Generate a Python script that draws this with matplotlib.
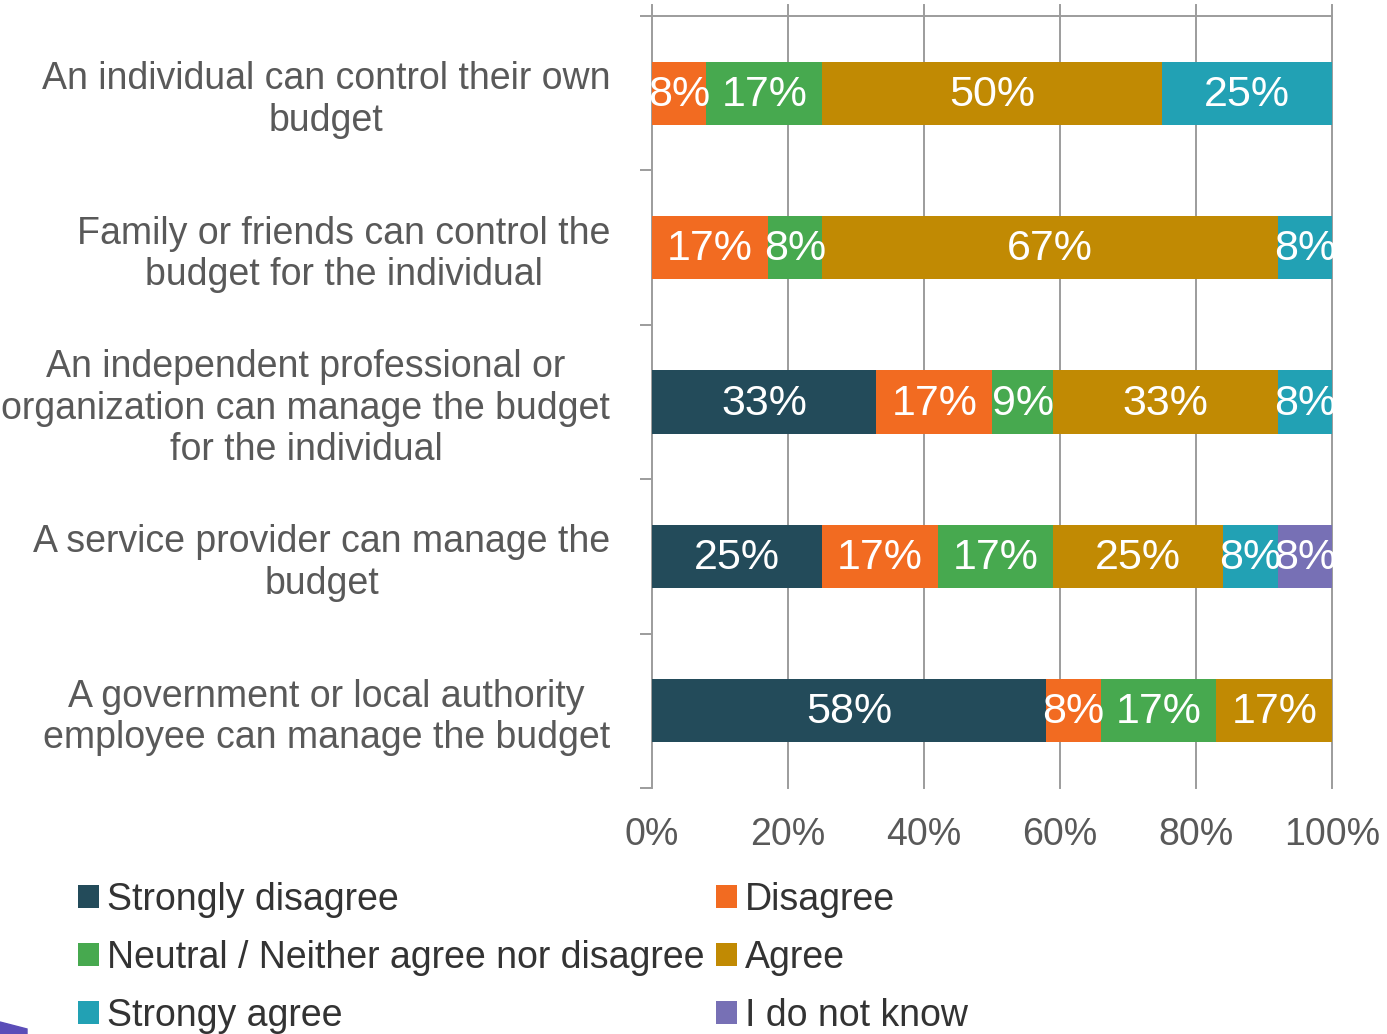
import numpy as np
import matplotlib
matplotlib.use("Agg")
import matplotlib.pyplot as plt
from matplotlib.patches import Patch, Polygon

plt.rcParams['font.family'] = ['Liberation Sans', 'DejaVu Sans']

statements = [
    "An individual can control their own\nbudget",
    "Family or friends can control the\nbudget for the individual",
    "An independent professional or\norganization can manage the budget\nfor the individual",
    "A service provider can manage the\nbudget",
    "A government or local authority\nemployee can manage the budget",
]
responses = ["Strongly disagree", "Disagree", "Neutral / Neither agree nor disagree",
             "Agree", "Strongy agree", "I do not know"]

strongly_disagree = [0, 0, 33, 25, 58]
disagree = [8, 17, 17, 17, 8]
neutral = [17, 8, 9, 17, 17]
agree = [50, 67, 33, 25, 17]
strongly_agree = [25, 8, 8, 8, 0]
dont_know = [0, 0, 0, 8, 0]

colors = ["#234B5A", "#F26B21", "#47A94F", "#C18A03", "#22A1B4", "#7770B5"]

series = [strongly_disagree, disagree, neutral, agree, strongly_agree, dont_know]

grid_col = "#9C9C9C"
label_col = "#595959"

fig = plt.figure(figsize=(13.87, 10.34), dpi=100)
ax = fig.add_axes([652 / 1387, 1 - 788 / 1034, 680 / 1387, 772 / 1034])

y = np.arange(len(statements))
left = np.zeros(len(statements))
for vals, col in zip(series, colors):
    vals = np.array(vals, dtype=float)
    bars = ax.barh(y, vals, left=left, height=0.41, color=col, zorder=3)
    for b, v in zip(bars, vals):
        if v > 0:
            ax.text(b.get_x() + b.get_width() / 2, b.get_y() + b.get_height() / 2 + 0.01,
                    f"{v:.0f}%", ha='center', va='center', color='white',
                    fontsize=31, zorder=4)
    left += vals

ax.set_xlim(0, 100)
ax.set_ylim(len(statements) - 0.5, -0.5)

# vertical gridlines poke a little above the top border
for gx in range(0, 101, 20):
    ax.plot([gx, gx], [0, 1.014], transform=ax.get_xaxis_transform(),
            color=grid_col, lw=1.4, clip_on=False, zorder=1)

for side in ['left', 'right', 'bottom']:
    ax.spines[side].set_visible(False)
ax.spines['top'].set_color(grid_col)
ax.spines['top'].set_linewidth(1.4)

ax.set_xticks(range(0, 101, 20))
ax.set_xticklabels([f"{t}%" for t in range(0, 101, 20)])
ax.tick_params(axis='x', length=0, pad=21, labelsize=27, labelcolor=label_col)

ax.set_yticks(y)
ax.set_yticklabels(statements, multialignment='center', linespacing=1.2)
ax.set_yticks(np.arange(-0.5, len(statements)), minor=True)
ax.tick_params(axis='y', which='major', length=0, pad=30, labelsize=27,
               labelcolor=label_col)
ax.tick_params(axis='y', which='minor', length=8.6, width=1.4, color=grid_col)

# legend filled row by row
order = [0, 2, 4, 1, 3, 5]
handles = [Patch(facecolor=colors[i], label=responses[i]) for i in order]
fig.legend(handles=handles, loc='upper left', ncol=2,
           bbox_to_anchor=(78 / 1387, 1 - 882 / 1034), frameon=False,
           fontsize=27, handlelength=0.56, handleheight=0.56, handletextpad=0.22,
           labelspacing=0.58, columnspacing=0.3, borderpad=0, borderaxespad=0,
           labelcolor='#333333')

fig.add_artist(Polygon([(0, 1 - 1022 / 1034), (27 / 1387, 1 - 1029 / 1034),
                        (27 / 1387, 0), (0, 0)], closed=True,
                       transform=fig.transFigure, color="#5B4DB8"))

fig.savefig("out.png", dpi=100)
